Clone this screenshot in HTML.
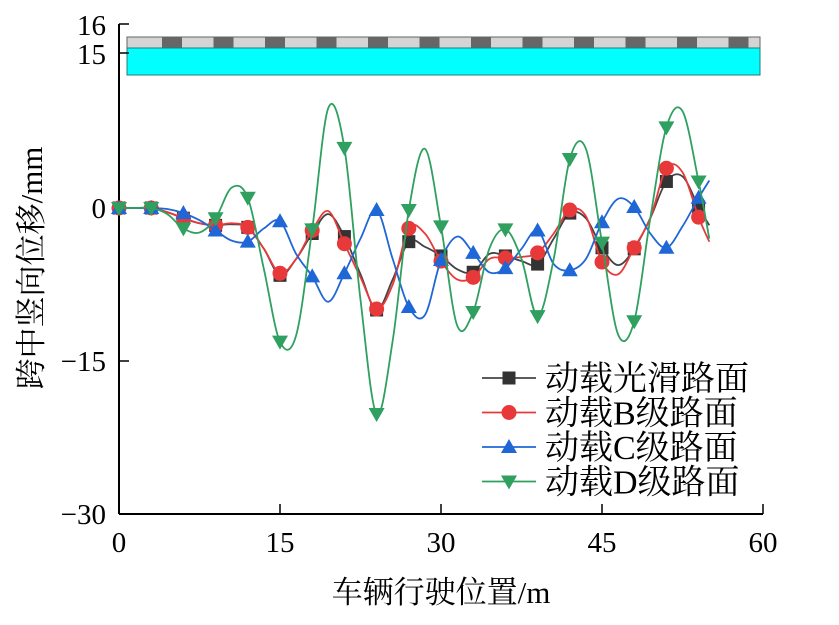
<!DOCTYPE html>
<html><head><meta charset="utf-8">
<style>
body{margin:0;background:#fff;}
svg text{font-family:"Liberation Serif","Noto Serif CJK SC",serif;fill:#000;}
</style></head>
<body>
<svg id="chart" width="839" height="620" viewBox="0 0 839 620">
<g id="deck"></g>
<g id="axes"></g>
<g id="series"></g>
<g id="legend"></g>
</svg>
<script>
const xTicks=[0,15,30,45,60];
const yTicks=[0,-15,-30];
const lineX=[0,1.5,3,4.5,6,7.5,9,10.5,12,13.5,15,16.5,18,19.5,21,22.5,24,25.5,27,28.5,30,31.5,33,34.5,36,37.5,39,40.5,42,43.5,45,46.5,48,49.5,51,52.5,54,55];
const smooth=[0,0,0,-0.4,-1.0,-1.5,-1.7,-1.6,-1.9,-4,-6.6,-5,-2.5,-0.6,-2.8,-6.5,-10,-7,-3.3,-3.8,-4.7,-6,-6.3,-4.5,-4.7,-5.2,-5.5,-3,-0.5,-1,-3.9,-5.6,-4,-1,2.6,3.1,0.1,-1.7];
const gradeB=[0,0,0,-0.4,-1.0,-1.5,-1.7,-1.5,-1.9,-4,-6.4,-5,-2.2,-0.3,-3.5,-6.8,-9.9,-7.5,-2.0,-2.5,-5.2,-7,-6.8,-5,-4.9,-4.8,-4.4,-2.5,-0.2,-0.8,-5.3,-6.5,-3.9,-1,3.9,3.5,-0.9,-3.3];
const gradeC=[0,0,0,-0.1,-0.5,-1.2,-2.2,-3.2,-3.3,-2,-1.3,-4.5,-6.7,-9.2,-6.4,-3,-0.2,-5,-9.7,-10.5,-5.1,-2.8,-4.4,-6.3,-5.9,-4,-2.2,-5.5,-6.1,-5.0,-1.4,0.9,0.1,-2.5,-3.9,-1.8,1.0,2.7];
const gradeD=[0,0,0,-0.6,-2.0,-2.4,-1.0,2.0,1.0,-6,-13.1,-12.5,-2.1,9.8,5.9,-9,-20.2,-13,-0.2,5.8,-1.8,-11.5,-10.2,-4,-2.1,-5,-10.6,-5,4.8,5.8,-3.4,-12.4,-11.1,-1,7.9,9.5,2.6,-3];
const seriesNames=["动载光滑路面","动载B级路面","动载C级路面","动载D级路面"];
const seriesColors=["#333333","#e8393a","#1f66d6","#2fa060"];
const seriesLine=["#444444","#e8393a","#1f66d6","#2fa060"];
const seriesData=[smooth,gradeB,gradeC,gradeD];
const seriesKeys=["smooth","b","c","d"];
const markerTypes=["square","circle","triangle","tri-down"];

const NS="http://www.w3.org/2000/svg";
const X0=119,X1=763,Y0=208,PPU=10.2;
function sx(v){return X0+(X1-X0)*v/60;}
function sy(v){return Y0-v*PPU;}
function mk(tag,attrs,parent){const e=document.createElementNS(NS,tag);for(const k in attrs)e.setAttribute(k,attrs[k]);parent.appendChild(e);return e;}

const deck=document.getElementById('deck');
let r=mk('rect',{x:127,y:37,width:633,height:11,fill:'#d4d4d4',stroke:'#666','stroke-width':1},deck);


for(let bx=162;bx<750;bx+=51.5){
 const b=mk('rect',{x:bx,y:37.5,width:20,height:10,fill:'#666'},deck);
 
 
}
r=mk('rect',{x:127,y:48,width:633,height:27,fill:'#00ffff',stroke:'#2a7a7a','stroke-width':1},deck);



const ax=document.getElementById('axes');
let l=mk('line',{x1:X0,y1:24,x2:X0,y2:514,stroke:'#000','stroke-width':2},ax);


l=mk('line',{x1:X0,y1:514,x2:X1,y2:514,stroke:'#000','stroke-width':2},ax);


xTicks.forEach(t=>{
 const tl=mk('line',{x1:sx(t),y1:514,x2:sx(t),y2:504,stroke:'#000','stroke-width':1.5},ax);
 
 
 const tx=mk('text',{x:sx(t),y:552,'text-anchor':'middle','font-size':29},ax);
 tx.textContent=t;
 
 
});
yTicks.forEach(t=>{
 const tl=mk('line',{x1:X0,y1:sy(t),x2:X0+10,y2:sy(t),stroke:'#000','stroke-width':1.5},ax);
 
 
 const tx=mk('text',{x:106,y:sy(t)+10,'text-anchor':'end','font-size':29},ax);
 tx.textContent=t===0?'0':'\u2212'+Math.abs(t);
 
 
});
[[16,26],[15,55]].forEach(p=>{
 const tl=mk('line',{x1:X0,y1:p[1]-2,x2:X0+10,y2:p[1]-2,stroke:'#000','stroke-width':1.5},ax);
 
 
 const tx=mk('text',{x:106,y:p[1]+9,'text-anchor':'end','font-size':29},ax);
 tx.textContent=p[0];
 
 
});
let tt=mk('text',{x:441,y:603,'text-anchor':'middle','font-size':31},ax);
tt.textContent='车辆行驶位置/m';


tt=mk('text',{x:0,y:0,'text-anchor':'middle','font-size':31,transform:'translate(42,268) rotate(-90)'},ax);
tt.textContent='跨中竖向位移/mm';



function pathFor(vals){
 const pts=vals.map((v,i)=>[sx(lineX[i]),sy(v)]);
 let d='M'+pts[0][0]+','+pts[0][1];
 for(let i=0;i<pts.length-1;i++){
  const p0=pts[Math.max(0,i-1)],p1=pts[i],p2=pts[i+1],p3=pts[Math.min(pts.length-1,i+2)];
  const c1=[p1[0]+(p2[0]-p0[0])/6,p1[1]+(p2[1]-p0[1])/6];
  const c2=[p2[0]-(p3[0]-p1[0])/6,p2[1]-(p3[1]-p1[1])/6];
  d+=' C'+c1[0].toFixed(1)+','+c1[1].toFixed(1)+' '+c2[0].toFixed(1)+','+c2[1].toFixed(1)+' '+p2[0].toFixed(1)+','+p2[1].toFixed(1);
 }
 return d;
}
function marker(type,x,y,color,parent){
 let e;
 if(type==='square')e=mk('rect',{x:x-6.5,y:y-6.5,width:13,height:13,fill:color},parent);
 else if(type==='circle')e=mk('circle',{cx:x,cy:y,r:7.5,fill:color},parent);
 else if(type==='triangle')e=mk('polygon',{points:`${x},${y-8} ${x-8},${y+6} ${x+8},${y+6}`,fill:color},parent);
 else e=mk('polygon',{points:`${x},${y+8} ${x-8},${y-6} ${x+8},${y-6}`,fill:color},parent);
 return e;
}
const sg=document.getElementById('series');
seriesData.forEach((vals,si)=>{
 const g=mk('g',{},sg);
 
 
 const p=mk('path',{d:pathFor(vals),fill:'none',stroke:seriesLine[si],'stroke-width':1.8},g);
 
 
 vals.forEach((v,i)=>{
  if(i%2!==0||lineX[i]>54)return;
  const m=marker(markerTypes[si],sx(lineX[i]),sy(v),seriesColors[si],g);
  
  
 });
});
const lg=document.getElementById('legend');
seriesNames.forEach((n,i)=>{
 const y=378+i*34.5;
 const e=mk('g',{},lg);
 
 
 mk('line',{x1:482,y1:y,x2:536,y2:y,stroke:seriesLine[i],'stroke-width':1.8},e);
 marker(markerTypes[i],509,y,seriesColors[i],e);
 const t=mk('text',{x:545,y:y+12,'font-size':34},e);
 t.textContent=n;
});
</script>
</body></html>
